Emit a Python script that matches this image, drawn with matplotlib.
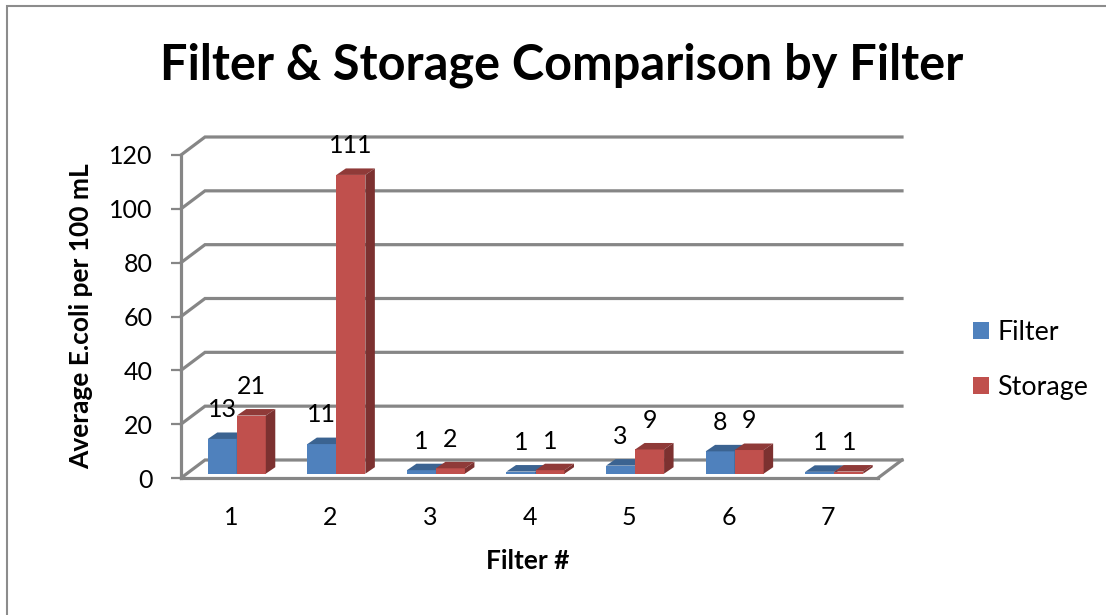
import matplotlib
matplotlib.use("Agg")
import matplotlib.pyplot as plt
from matplotlib.lines import Line2D
from matplotlib.patches import Polygon

W, H = 1106, 615
FONT = "Lato"
plt.rcParams["font.family"] = [FONT, "DejaVu Sans"]

categories = [1, 2, 3, 4, 5, 6, 7]
filter_values = [12.9, 11.0, 1.3, 0.8, 3.0, 8.3, 0.7]
storage_values = [21.6, 111.0, 2.0, 1.3, 9.0, 8.8, 0.8]
filter_labels = ["13", "11", "1", "1", "3", "8", "1"]
storage_labels = ["21", "111", "2", "1", "9", "9", "1"]
y_ticks = [0, 20, 40, 60, 80, 100, 120]

GREY = "#868686"
BLUE, BLUE_TOP, BLUE_SIDE = "#4F81BD", "#3B6391", "#2F5278"
RED, RED_TOP, RED_SIDE = "#C0504D", "#8F3A38", "#7C3130"

fig = plt.figure(figsize=(W / 100, H / 100), dpi=100, facecolor="white")
L, R, T, B = 181, 878, 155, 478
ax = fig.add_axes([L / W, 1 - B / H, (R - L) / W, (B - T) / H])
ax.set_xlim(0.5, 7.5)
ax.set_ylim(0, 120)
ax.patch.set_visible(False)
sx = (R - L) / 7
sy = (B - T) / 120

# conversions from pixel depth to data units
back_dx, back_dy = 24 / sx, 18 / sy
bar_dx, bar_dy = 9.5 / sx, 6.5 / sy
base_dx, base_dy = 6 / sx, 4.3 / sy
bw = 29 / sx

# back wall gridlines, left wall diagonals, floor edge
for v in y_ticks:
    ax.plot([0.5, 0.5 + back_dx, 7.5 + back_dx], [v, v + back_dy, v + back_dy],
            color=GREY, lw=2.3, clip_on=False, zorder=1, solid_joinstyle="miter")
ax.plot([7.5, 7.5 + back_dx], [0, back_dy], color=GREY, lw=2.3, clip_on=False, zorder=1)

FS = 18


def box(x0, val, front, top, side, label):
    left = x0 + base_dx
    b = base_dy
    r = left + bw
    t = b + val
    ax.bar(left, val, bw, bottom=b, align="edge", color=front, lw=0, zorder=3, clip_on=False)
    ax.add_patch(Polygon([(left, t), (r, t), (r + bar_dx, t + bar_dy), (left + bar_dx, t + bar_dy)],
                         closed=True, fc=top, lw=0, zorder=3, clip_on=False))
    ax.add_patch(Polygon([(r, b), (r + bar_dx, b + bar_dy), (r + bar_dx, t + bar_dy), (r, t)],
                         closed=True, fc=side, lw=0, zorder=3, clip_on=False))
    ax.annotate(label, (left + bw / 2, t), xytext=(0, 21), textcoords="offset points",
                ha="center", va="center", fontsize=FS, color="black", zorder=5)


for c, fv, sv, fl, sl in zip(categories, filter_values, storage_values, filter_labels, storage_labels):
    box(c - bw, fv, BLUE, BLUE_TOP, BLUE_SIDE, fl)
    box(c, sv, RED, RED_TOP, RED_SIDE, sl)

for s in ("top", "right"):
    ax.spines[s].set_visible(False)
for s in ("left", "bottom"):
    ax.spines[s].set_color(GREY)
    ax.spines[s].set_linewidth(2.3)
    ax.spines[s].set_zorder(2)
ax.set_xticks(categories)
ax.set_yticks(y_ticks)
ax.tick_params(axis="x", length=0, pad=20, labelsize=FS)
ax.tick_params(axis="y", length=7.5, width=1.6, color=GREY, pad=13, labelsize=FS)
for t in ax.get_xticklabels():
    t.set_x(t.get_position()[0])

legend_handles = [
    ax.bar([0], [0], color=BLUE, lw=0),
    ax.bar([0], [0], color=RED, lw=0),
]
fig.legend(legend_handles, ["Filter", "Storage"], loc="upper left",
           bbox_to_anchor=(973 / W, 1 - 320 / H), frameon=False, fontsize=19.3,
           borderpad=0, borderaxespad=0, handlelength=0.6, handleheight=0.6,
           handletextpad=0.3, labelspacing=1.12)

fig.suptitle("Filter & Storage Comparison by Filter", x=562 / W, y=1 - 65 / H,
             ha="center", va="center", fontsize=35, fontweight="bold", color="black")
fig.supxlabel("Filter #", x=528 / W, y=1 - 561 / H, ha="center", va="center",
              fontsize=19, fontweight="bold")
fig.supylabel("Average E.coli per 100 mL", x=81 / W, y=1 - 316 / H, ha="center", va="center",
              rotation=90, fontsize=19, fontweight="bold")

# chart-area border, cut by the image's right and bottom edges
fig.add_artist(Line2D([6.5 / W, 6.5 / W, 1], [0, 1 - 6 / H, 1 - 6 / H], color="#8C8C8C", lw=1.5,
                      transform=fig.transFigure, solid_joinstyle="miter"))

fig.savefig("out.png", dpi=100, facecolor="white")
